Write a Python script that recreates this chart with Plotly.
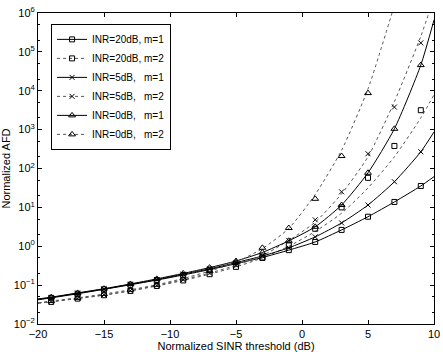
import plotly.graph_objects as go

# marker positions (simulation points) and curve positions (analysis)
x_marks = [-19, -17, -15, -13, -11, -9, -7, -5, -3, -1, 1, 3, 5, 7, 9]
x_curve = [-20, -19, -17, -15, -13, -11, -9, -7, -5, -3, -1, 1, 3, 5, 7, 9, 10]

# INR=20dB, m=1
sq1_curve = [0.042, 0.047, 0.060, 0.078, 0.102, 0.135, 0.182, 0.251, 0.355, 0.513,
             0.794, 1.29, 2.63, 5.75, 13.8, 35.5, 61.7]
sq1_marks = [0.047, 0.060, 0.078, 0.102, 0.135, 0.182, 0.251, 0.355, 0.513,
             0.794, 1.29, 2.63, 5.75, 13.8, 35.5]

# INR=20dB, m=2
sq2_curve = [0.034, 0.037, 0.045, 0.055, 0.071, 0.095, 0.132, 0.191, 0.295, 0.501,
             1.0, 2.4, 7.1, 31.6, 200, 2000, 7900]
sq2_marks = [0.037, 0.045, 0.055, 0.071, 0.095, 0.132, 0.191, 0.295, 0.501,
             1.05, 2.82, 10.0, 57.5, 380, 3160]

# INR=5dB, m=1
x1_curve = [0.043, 0.048, 0.062, 0.079, 0.105, 0.138, 0.191, 0.263, 0.380, 0.562,
            0.912, 1.74, 3.98, 11.5, 45.7, 269, 871]
x1_marks = [0.048, 0.062, 0.079, 0.105, 0.138, 0.191, 0.263, 0.380, 0.562,
            0.912, 1.74, 3.98, 11.5, 45.7, 269]

# INR=5dB, m=2
x2_curve = [0.035, 0.038, 0.046, 0.056, 0.072, 0.098, 0.138, 0.204, 0.324, 0.575,
            1.41, 4.17, 22.4, 200, 5250, 251000, 2500000]
x2_marks = [0.038, 0.046, 0.056, 0.072, 0.098, 0.138, 0.204, 0.324, 0.575,
            1.41, 4.79, 25.1, 240, 3800, 170000]

# INR=0dB, m=1
tri1_curve = [0.044, 0.049, 0.063, 0.081, 0.107, 0.145, 0.200, 0.282, 0.417, 0.692,
              1.38, 3.16, 11.5, 77.6, 1050, 45700, 661000]
tri1_marks = [0.049, 0.063, 0.081, 0.107, 0.145, 0.200, 0.282, 0.417, 0.692,
              1.38, 3.16, 11.5, 77.6, 1050, 45700]

# INR=0dB, m=2 (curve leaves the plot before 10 dB)
x_curve_tri2 = [-20, -19, -17, -15, -13, -11, -9, -7, -5, -3, -1, 1, 3, 5, 7]
tri2_curve = [0.035, 0.039, 0.047, 0.059, 0.076, 0.102, 0.148, 0.229, 0.389, 0.87,
              2.88, 21.4, 295, 11200, 1580000]
x_marks_tri2 = [-19, -17, -15, -13, -11, -9, -7, -5, -3, -1, 1, 3, 5]
tri2_marks = [0.039, 0.047, 0.059, 0.076, 0.102, 0.148, 0.229, 0.389, 0.912,
              2.95, 16.6, 209, 8710]

y_tickvals = [1e-2, 1e-1, 1e0, 1e1, 1e2, 1e3, 1e4, 1e5, 1e6]
y_ticktext = ['10<sup>\u22122</sup>', '10<sup>\u22121</sup>', '10<sup>0</sup>',
              '10<sup>1</sup>', '10<sup>2</sup>', '10<sup>3</sup>',
              '10<sup>4</sup>', '10<sup>5</sup>', '10<sup>6</sup>']

NB = '\u00a0'
series = [
    ('INR=20dB, m=1', x_curve, sq1_curve, x_marks, sq1_marks, 'square-open', 'solid'),
    ('INR=20dB, m=2', x_curve, sq2_curve, x_marks, sq2_marks, 'square-open', 'dot'),
    ('INR=5dB,' + NB * 3 + 'm=1', x_curve, x1_curve, x_marks, x1_marks, 'x-thin-open', 'solid'),
    ('INR=5dB,' + NB * 3 + 'm=2', x_curve, x2_curve, x_marks, x2_marks, 'x-thin-open', 'dot'),
    ('INR=0dB,' + NB * 3 + 'm=1', x_curve, tri1_curve, x_marks, tri1_marks, 'triangle-up-open', 'solid'),
    ('INR=0dB,' + NB * 3 + 'm=2', x_curve_tri2, tri2_curve, x_marks_tri2, tri2_marks, 'triangle-up-open', 'dot'),
]

fig = go.Figure()

for name, xc, yc, xm, ym, sym, dash in series:
    col = 'black' if dash == 'solid' else '#555555'
    size = 6 if sym.startswith('triangle') else 5
    # curve
    fig.add_trace(go.Scatter(
        x=xc, y=yc, mode='lines', showlegend=False,
        line=dict(color=col, width=1, dash=dash, shape='spline', smoothing=0.6),
        hoverinfo='skip'
    ))
    # markers
    fig.add_trace(go.Scatter(
        x=xm, y=ym, mode='markers', name=name, showlegend=False,
        marker=dict(symbol=sym, size=size, color='black', line=dict(color='black', width=1))
    ))
    # legend entry
    fig.add_trace(go.Scatter(
        x=[None], y=[None], mode='lines+markers', name=name,
        line=dict(color=col, width=1, dash=dash),
        marker=dict(symbol=sym, size=size, color='black', line=dict(color='black', width=1))
    ))

fig.update_layout(
    width=443, height=352,
    margin=dict(l=38, r=9, t=13, b=28),
    paper_bgcolor='white',
    plot_bgcolor='white',
    font=dict(family='Liberation Sans, Arial, sans-serif', size=11, color='black'),
    showlegend=True,
    legend=dict(
        x=0.033, y=0.965, xanchor='left', yanchor='top',
        bgcolor='white', bordercolor='black', borderwidth=1,
        font=dict(size=10), itemwidth=30, tracegroupgap=0
    ),
    xaxis=dict(
        title=dict(text='Normalized SINR threshold (dB)', standoff=0, font=dict(size=11)),
        range=[-20, 10], dtick=5, tick0=0, automargin=False,
        showgrid=False, zeroline=False,
        showline=True, linecolor='black', linewidth=1, mirror='ticks',
        ticks='inside', ticklen=4, tickcolor='black', ticklabelstandoff=0
    ),
    yaxis=dict(
        title=dict(text='Normalized AFD', standoff=2, font=dict(size=11)),
        type='log', range=[-2, 6], automargin=False,
        tickvals=y_tickvals, ticktext=y_ticktext,
        showgrid=False, zeroline=False,
        showline=True, linecolor='black', linewidth=1, mirror='ticks',
        ticks='inside', ticklen=4, tickcolor='black',
        minor=dict(ticks='inside', ticklen=2, tickcolor='black', showgrid=False)
    ),
)

fig.write_html("out.html", config={'displayModeBar': False},
               post_script="document.body.style.margin='0';")
